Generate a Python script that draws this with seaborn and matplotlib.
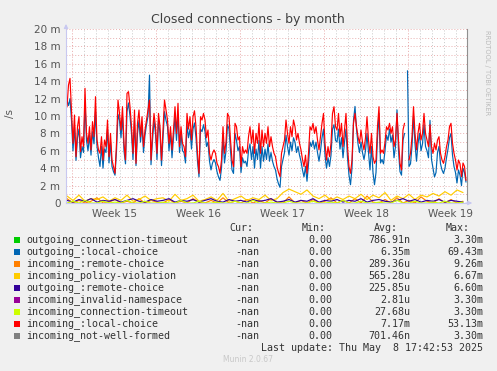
import numpy as np
import pandas as pd
import matplotlib
matplotlib.use("Agg")
import matplotlib.pyplot as plt
import seaborn as sns

# values in milli-connections per second
# main series: one sample every 3 h, small series: one sample every 12 h
incoming_local = [
    11.07, 13.56, 14.33, 10.69, 6.86, 10.11, 5.32, 8.77, 9.92, 5.9, 7.62, 6.48, 13.18, 8.0, 6.86, 8.77, 6.1, 9.35, 7.62, 12.22,
    7.24, 6.1, 5.71, 7.62, 4.94, 7.24, 6.48, 9.54, 5.32, 8.0, 4.94, 4.18, 3.41, 6.86, 11.84, 10.3, 8.39, 11.07, 6.86, 4.94,
    12.6, 12.8, 11.07, 8.77, 5.71, 10.69, 4.56, 9.16, 10.69, 7.62, 9.92, 6.48, 8.39, 9.54, 10.69, 11.84, 4.94, 8.0, 10.3, 8.77,
    5.71, 10.3, 8.77, 4.94, 8.39, 11.84, 10.69, 9.54, 6.86, 8.77, 6.1, 8.39, 11.07, 8.0, 11.46, 6.48, 8.77, 6.86, 6.48, 5.33,
    10.3, 8.5, 9.92, 7.24, 9.92, 10.6, 8.77, 5.71, 3.41, 9.92, 9.54, 10.3, 9.54, 7.5, 8.39, 5.71, 4.94, 5.71, 6.1, 5.71,
    4.56, 4.18, 3.41, 4.94, 8.77, 5.71, 7.0, 10.3, 9.92, 7.24, 4.94, 4.18, 9.16, 8.77, 7.24, 7.62, 4.18, 6.48, 5.71, 6.1,
    5.71, 7.62, 8.77, 6.86, 8.39, 5.71, 8.0, 6.86, 9.16, 5.71, 8.39, 6.48, 8.0, 6.86, 8.77, 6.48, 7.62, 6.48, 5.71, 5.33,
    4.18, 3.5, 3.03, 5.71, 6.48, 7.24, 9.54, 8.0, 6.86, 8.77, 7.62, 9.54, 8.77, 7.24, 8.0, 6.86, 6.1, 5.0, 4.18, 5.5,
    3.41, 5.71, 8.77, 8.39, 9.16, 8.0, 8.77, 7.24, 6.1, 7.62, 9.16, 10.3, 6.86, 4.94, 6.48, 5.33, 6.86, 10.3, 11.07, 8.77,
    8.39, 10.3, 7.62, 9.16, 6.48, 8.39, 10.3, 6.48, 4.18, 3.41, 4.94, 9.16, 10.3, 8.77, 7.62, 6.86, 8.39, 7.0, 6.1, 7.5,
    9.92, 7.24, 5.71, 8.0, 5.33, 4.56, 4.94, 8.77, 11.07, 5.71, 6.1, 5.71, 7.0, 8.77, 8.39, 9.16, 8.0, 8.77, 6.48, 7.24,
    10.3, 7.24, 4.56, 3.79, 8.39, 9.16, np.nan, np.nan, 4.94, 5.71, 7.62, 11.07, 8.0, 6.1, 8.0, 9.16, 7.24, 8.0, 10.3, 8.0,
    7.24, 6.48, 9.0, 6.48, 5.71, 6.86, 6.1, 7.24, 7.62, 5.71, 4.94, 4.56, 5.33, 6.48, 7.24, 8.77, 9.16, 6.86, 5.71, 4.94,
    3.79, 4.94, 4.5, 3.03, 4.6, 4.2, 2.6,
]
outgoing_local = [
    11.8, 11.2, 12.0, 9.5, 6.0, 8.8, 4.9, 7.5, 8.5, 5.2, 6.5, 5.8, 11.5, 7.2, 6.0, 7.8, 5.5, 8.2, 6.8, 10.5,
    6.5, 5.2, 4.2, 6.5, 4.0, 6.2, 5.8, 8.5, 4.6, 7.0, 4.2, 3.6, 3.2, 6.0, 10.2, 9.5, 7.5, 10.0, 6.0, 4.5,
    10.5, 11.5, 10.0, 8.0, 5.0, 9.5, 4.3, 8.0, 9.5, 7.0, 9.0, 5.8, 7.8, 9.0, 10.0, 14.7, 4.4, 7.2, 9.5, 8.0,
    5.0, 9.5, 8.0, 4.3, 7.5, 10.5, 9.5, 8.8, 6.0, 8.0, 5.2, 7.5, 10.0, 7.2, 10.2, 5.8, 8.0, 6.0, 5.8, 4.6,
    9.0, 7.5, 8.5, 6.2, 8.5, 9.2, 7.5, 4.8, 3.0, 8.5, 8.2, 9.0, 8.2, 6.5, 7.0, 4.8, 3.8, 4.6, 5.0, 4.6,
    3.6, 3.0, 2.6, 4.0, 7.5, 4.6, 6.0, 9.0, 8.5, 6.0, 3.8, 3.4, 8.0, 7.2, 6.0, 6.5, 3.5, 5.2, 4.6, 4.8,
    4.2, 6.0, 6.8, 5.0, 6.5, 4.0, 6.2, 5.0, 7.2, 4.0, 6.5, 4.8, 6.2, 5.0, 6.8, 4.8, 5.8, 4.8, 4.2, 3.8,
    2.8, 2.2, 1.8, 4.2, 5.0, 5.8, 7.8, 6.5, 5.5, 7.0, 6.0, 7.5, 7.0, 5.8, 6.5, 5.5, 4.8, 3.8, 3.0, 4.2,
    2.5, 4.5, 7.0, 6.5, 7.2, 6.2, 7.0, 5.8, 4.8, 6.0, 7.5, 8.5, 5.5, 4.0, 5.2, 4.2, 5.5, 8.5, 9.0, 7.2,
    7.0, 8.5, 6.2, 7.5, 5.2, 7.0, 8.5, 5.2, 3.2, 2.1, 4.0, 9.5, 11.1, 8.5, 6.8, 5.8, 7.0, 5.8, 5.0, 6.0,
    8.0, 5.8, 3.8, 6.5, 3.5, 2.1, 3.5, 7.5, 10.3, 4.6, 5.0, 4.5, 6.0, 7.8, 7.2, 8.5, 7.0, 7.8, 5.2, 6.5,
    10.7, 6.0, 3.6, 3.2, 7.2, 8.0, np.nan, 15.2, 4.2, 4.5, 6.5, 10.0, 6.8, 4.8, 6.8, 8.0, 6.0, 6.8, 9.0, 6.5,
    6.0, 5.2, 9.5, 5.0, 4.0, 3.0, 3.5, 5.8, 6.5, 4.5, 3.8, 3.4, 4.0, 5.2, 6.2, 7.5, 8.0, 5.5, 4.2, 3.5,
    2.3, 3.8, 3.2, 2.0, 4.0, 3.5, 2.4,
]
policy_violation = [
    0.8, 0.3, 0.9, 0.2, 0.5, 0.4, 0.7, 0.2, 0.6, 0.3, 0.9, 0.2, 0.4, 0.8, 0.3, 0.5,
    0.6, 0.2, 1.0, 0.3, 0.5, 0.9, 0.2, 0.4, 0.7, 0.3, 1.1, 0.2, 0.5, 0.8, 0.3, 0.6,
    0.4, 0.9, 0.3, 0.5, 1.2, 1.6, 1.3, 1.0, 1.5, 0.8, 0.5, 0.9, 0.3, 0.7, 0.4, 0.8,
    0.5, 1.0, 0.4, 0.9, 0.6, 1.2, 0.3, 0.8, 0.5, 1.0, 0.4, 0.9, 0.7, 1.1, 0.8, 1.3, 0.9, 1.5, 1.2,
]
outgoing_remote = [
    0.3, 0.1, 0.4, 0.2, 0.5, 0.1, 0.3, 0.2, 0.4, 0.1, 0.3, 0.5, 0.2, 0.1, 0.4, 0.2,
    0.3, 0.5, 0.1, 0.3, 0.2, 0.4, 0.1, 0.3, 0.5, 0.2, 0.1, 0.4, 0.2, 0.3, 0.1, 0.4,
    0.2, 0.3, 0.5, 0.1, 0.2, 0.4, 0.1, 0.3, 0.2, 0.5, 0.1, 0.3, 0.2, 0.4, 0.1, 0.3,
    0.2, 0.5, 0.1, 0.3, 0.4, 0.2, 0.1, 0.3, 0.5, 0.2, 0.4, 0.1, 0.3, 0.2, 0.4, 0.1, 0.3, 0.2, 0.1,
]
incoming_remote = [
    0.5, 0.0, 0.3, 0.0, 0.2, 0.6, 0.0, 0.1, 0.4, 0.0, 0.2, 0.0, 0.5, 0.0, 0.3, 0.1,
    0.0, 0.4, 0.0, 0.2, 0.0, 0.5, 0.1, 0.0, 0.3, 0.0, 0.6, 0.0, 0.2, 0.0, 0.4, 0.0,
    0.3, 0.0, 0.5, 0.1, 0.0, 0.7, 0.0, 0.3, 0.0, 0.4, 0.0, 0.2, 0.6, 0.0, 0.3, 0.0,
    0.5, 0.0, 0.8, 0.1, 0.0, 0.4, 0.0, 0.6, 0.0, 0.3, 0.0, 0.7, 0.2, 0.0, 0.5, 0.0, 0.4, 0.0, 0.2,
]
incoming_timeout = [
    0.0, 0.2, 0.0, 0.3, 0.0, 0.0, 0.2, 0.0, 0.1, 0.0, 0.3, 0.0, 0.0, 0.2, 0.0, 0.0,
    0.1, 0.0, 0.0, 0.3, 0.0, 0.0, 0.2, 0.0, 0.0, 0.1, 0.0, 0.0, 0.2, 0.0, 0.0, 0.3,
    0.0, 0.0, 0.1, 0.0, 0.0, 0.2, 0.0, 0.0, 0.0, 0.2, 0.0, 0.0, 0.1, 0.0, 0.3, 0.0,
    0.0, 0.2, 0.0, 0.0, 0.1, 0.0, 0.0, 0.3, 0.0, 0.0, 0.2, 0.0, 0.0, 0.1, 0.0, 0.2, 0.0, 0.0, 0.1,
]

legend_rows = [
    ("outgoing_connection-timeout", "#00CC00", "-nan", "0.00", "786.91n", "3.30m"),
    ("outgoing_:local-choice", "#0066B3", "-nan", "0.00", "6.35m", "69.43m"),
    ("incoming_:remote-choice", "#FF8000", "-nan", "0.00", "289.36u", "9.26m"),
    ("incoming_policy-violation", "#FFCC00", "-nan", "0.00", "565.28u", "6.67m"),
    ("outgoing_:remote-choice", "#330099", "-nan", "0.00", "225.85u", "6.60m"),
    ("incoming_invalid-namespace", "#990099", "-nan", "0.00", "2.81u", "3.30m"),
    ("incoming_connection-timeout", "#CCFF00", "-nan", "0.00", "27.68u", "3.30m"),
    ("incoming_:local-choice", "#FF0000", "-nan", "0.00", "7.17m", "53.13m"),
    ("incoming_not-well-formed", "#808080", "-nan", "0.00", "701.46n", "3.30m"),
]
week_labels = ["Week 15", "Week 16", "Week 17", "Week 18", "Week 19"]

# (series name, values, sample step in hours), in munin draw order
series = [
    ("outgoing_:local-choice", outgoing_local, 3),
    ("incoming_:remote-choice", incoming_remote, 12),
    ("incoming_policy-violation", policy_violation, 12),
    ("outgoing_:remote-choice", outgoing_remote, 12),
    ("incoming_connection-timeout", incoming_timeout, 12),
    ("incoming_:local-choice", incoming_local, 3),
]

frames = []
for name, vals, step in series:
    v = np.array(vals, dtype=float)
    d = pd.DataFrame({
        "day": (2 + step * np.arange(len(v))) / 24.0,
        "value": v,
        "seg": np.cumsum(np.isnan(v)),
        "series": name,
    })
    frames.append(d.dropna())
df = pd.concat(frames, ignore_index=True)
palette = {r[0]: r[1] for r in legend_rows}

W, H = 497, 371
sns.set_style("white")
plt.rcParams["font.family"] = ["DejaVu Sans"]

fig = plt.figure(figsize=(W / 100, H / 100), dpi=100, facecolor="#F0F0F0")
ax = fig.add_axes([66 / W, 1 - 203 / H, 401 / W, 174 / H])
ax.set_facecolor("white")

xmax = 401 / 12
ax.set_xlim(0, xmax)
ax.set_ylim(0, 20)

# grid
for v in range(1, 21):
    ax.axhline(v, color="#E8B0B0", lw=0.7, ls=(0, (1, 2)), zorder=0.5)
for k in range(34):
    day = 0.5 + k
    if day > xmax:
        break
    col = "#E8A8A8" if k % 7 == 0 else "#C8C8C8"
    ax.axvline(day, color=col, lw=0.7, ls=(0, (1, 2)), zorder=0.5)

sns.lineplot(data=df, x="day", y="value", hue="series", hue_order=[s[0] for s in series],
             units="seg", estimator=None, palette=palette, legend=False,
             linewidth=0.85, ax=ax, zorder=2)

ax.set_xlabel("")
ax.set_ylabel("")
ax.set_yticks(range(0, 21, 2))
ax.set_yticklabels(["0"] + [f"{v} m" for v in range(2, 21, 2)])
ax.set_xticks([0.5 + 7 * k for k in range(5)])
ax.set_xticklabels([])
ax.set_xticks([4 + 7 * k for k in range(5)], minor=True)
ax.set_xticklabels(week_labels, minor=True)
ax.tick_params(axis="x", which="major", length=2, color="#E06060", direction="out")
ax.tick_params(axis="x", which="minor", length=0, labelsize=7.5, labelcolor="#555555", pad=4)
ax.tick_params(axis="y", length=2, color="#E0A0A0", labelsize=7.5, labelcolor="#555555", pad=2)

ax.spines["top"].set_visible(False)
ax.spines["right"].set_color("#909090")
ax.spines["left"].set_color("#C8C8F0")
ax.spines["bottom"].set_color("#C8C8F0")

# axis arrows
ax.annotate("", xy=(0, 1.045), xytext=(0, 0.99), xycoords="axes fraction",
            arrowprops=dict(arrowstyle="-|>", color="#C8C8F0", lw=0.8, mutation_scale=6))
ax.annotate("", xy=(1.02, 0), xytext=(0.99, 0), xycoords="axes fraction",
            arrowprops=dict(arrowstyle="-|>", color="#C8C8F0", lw=0.8, mutation_scale=6))


def px(x, y):
    return x / W, 1 - y / H


fig.text(*px(248, 19), "Closed connections - by month", ha="center", va="center",
         fontsize=9, color="#404040")
fig.text(*px(10, 113), "/s", ha="center", va="center", rotation=90, fontsize=7.5, color="#555555")
fig.text(*px(487, 30), "RRDTOOL / TOBI OETIKER", ha="center", va="top", rotation=270,
         fontsize=4.8, color="#BBBBBB")

mono = dict(family="DejaVu Sans Mono", fontsize=7.2, color="#333333", va="center")
for lab, xr in [("Cur:", 253), ("Min:", 326), ("Avg:", 398), ("Max:", 470)]:
    fig.text(*px(xr, 228), lab, ha="right", **mono)
for i, (name, col, cur, mn, avg, mx) in enumerate(legend_rows):
    y = 240 + 12 * i
    fig.patches.append(plt.Rectangle(px(14, y + 3), 6 / W, 6 / H, transform=fig.transFigure,
                                     facecolor=col, edgecolor="none"))
    fig.text(*px(26, y), name, ha="left", **mono)
    fig.text(*px(259, y), cur, ha="right", **mono)
    fig.text(*px(332, y), mn, ha="right", **mono)
    fig.text(*px(410, y), avg, ha="right", **mono)
    fig.text(*px(483, y), mx, ha="right", **mono)
fig.text(*px(483, 348), "Last update: Thu May  8 17:42:53 2025", ha="right", **mono)
fig.text(*px(248, 360), "Munin 2.0.67", ha="center", va="center", fontsize=5.5, color="#C8C8C8")

fig.savefig("out.png", dpi=100, facecolor=fig.get_facecolor())
